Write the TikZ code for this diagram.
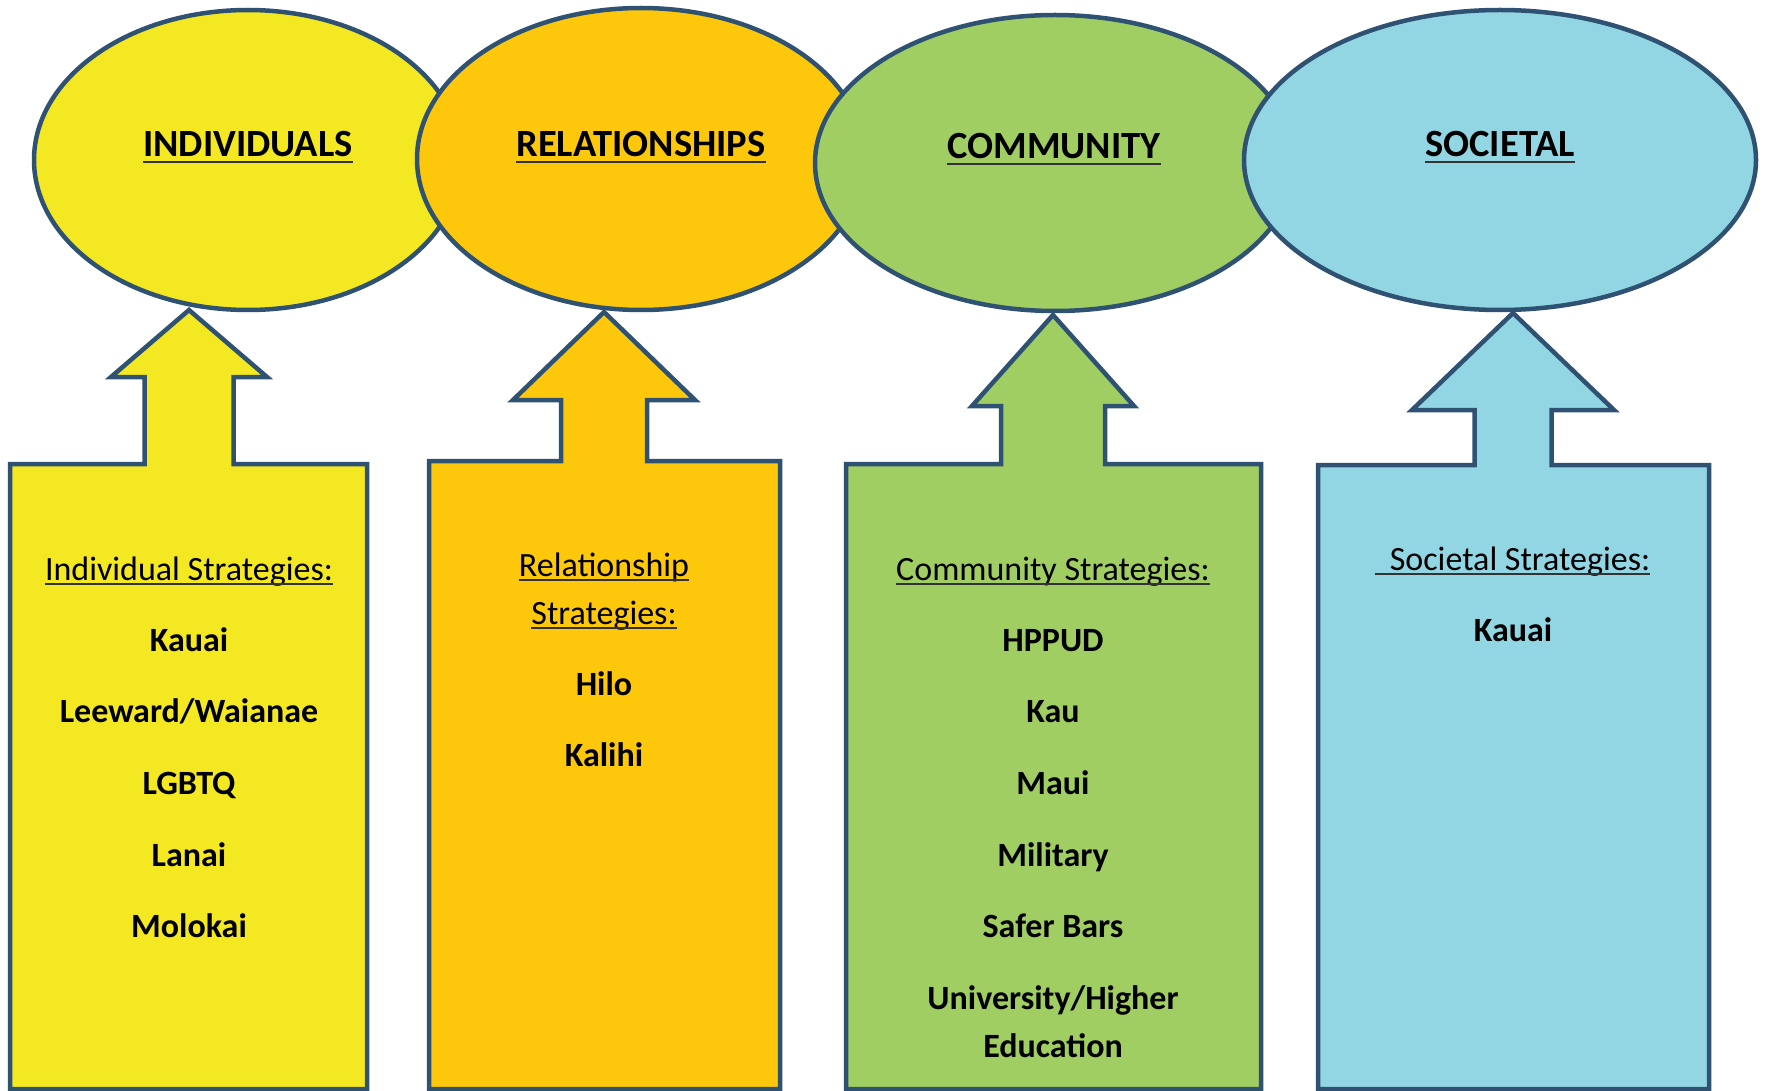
\documentclass[tikz,border=0pt]{standalone}
\usepackage{fontspec}
\setmainfont{Carlito}
\usetikzlibrary{shapes.geometric}

\definecolor{edgeblue}{HTML}{2F5273}
\definecolor{indyellow}{HTML}{F4E822}
\definecolor{relorange}{HTML}{FDC80C}
\definecolor{comgreen}{HTML}{A1CE62}
\definecolor{socblue}{HTML}{93D6E3}

\tikzset{
    level/.style={ellipse, draw=edgeblue, line width=4.5pt, inner sep=0pt},
    title/.style={anchor=base, inner sep=0pt, font=\fontsize{38.5}{46}\selectfont\bfseries},
    head/.style={anchor=base, inner sep=0pt, font=\fontsize{34}{41}\selectfont},
    item/.style={anchor=base, inner sep=0pt, font=\fontsize{34}{41}\selectfont\bfseries},
    underl/.style={line width=1.6pt, black!80},
}

\begin{document}
\begin{tikzpicture}[x=1pt, y=-1pt]
    \useasboundingbox (0,0) rectangle (1767,1091);

    % strategy boxes, each with a block arrow up to its level
    \foreach \cx/\sh/\hh/\hb/\ty/\bl/\br/\bt/\col in {
            189/44.5/78/377/310/10/367/464/indyellow,
            604/43/91/400/312/429/780/461/relorange,
            1053/52/81/406/315/846/1261/464/comgreen,
            1513/38.5/101/410/313/1318/1709/465/socblue}
        \filldraw[fill=\col, draw=edgeblue, line width=4.5pt] (\cx,\ty) -- (\cx+\hh,\hb) -- (\cx+\sh,\hb)
            -- (\cx+\sh,\bt) -- (\br,\bt) -- (\br,1089) -- (\bl,1089) -- (\bl,\bt)
            -- (\cx-\sh,\bt) -- (\cx-\sh,\hb) -- (\cx-\hh,\hb) -- cycle;

    % the four levels, left one lies under the next
    \node[level, fill=indyellow, minimum width=428, minimum height=300] (indiv) at (248,160) {};
    \node[level, fill=relorange, minimum width=448, minimum height=302] (relat) at (641,159) {};
    \node[level, fill=comgreen, minimum width=480, minimum height=296] (commun) at (1055,163) {};
    \node[level, fill=socblue, minimum width=512, minimum height=300] (soc) at (1500,160) {};

    \node[title] (indivT) at (248,157) {INDIVIDUALS};
    \node[title] (relatT) at (641,157) {RELATIONSHIPS};
    \node[title] (communT) at (1054,159) {COMMUNITY};
    \node[title] (socT) at (1500,157) {SOCIETAL};

    % strategies
    \node[head] (indivH) at (189,580) {Individual Strategies:};
    \foreach \lbl [count=\k] in {Kauai, Leeward/Waianae, LGBTQ, Lanai, Molokai}
        \node[item] (indiv\k) at (189,579.3+71.7*\k) {\lbl};

    \node[head] (relatH1) at (604,576) {Relationship};
    \node[head] (relatH2) at (604,624) {Strategies:};
    \foreach \lbl [count=\k] in {Hilo, Kalihi}
        \node[item] (relat\k) at (604,623.5+71.7*\k) {\lbl};

    \node[head] (communH) at (1053,580) {Community Strategies:};
    \foreach \lbl [count=\k] in {HPPUD, Kau, Maui, Military, Safer Bars, University/Higher}
        \node[item] (commun\k) at (1053,579.3+71.7*\k) {\lbl};
    \node[item] (commun7) at (1053,1057) {Education};

    \node[head] (socH) at (1520,570) {Societal Strategies:};
    \node[item] (soc1) at (1513,641) {Kauai};

    % underlines
    \foreach \n in {indivT, relatT, communT, socT}
        \draw[underl, line width=2pt] ([yshift=-5pt]\n.base west) -- ([yshift=-5pt]\n.base east);
    \foreach \n in {indivH, relatH1, relatH2, communH}
        \draw[underl] ([yshift=-4pt]\n.base west) -- ([yshift=-4pt]\n.base east);
    \draw[underl] ([xshift=-15pt, yshift=-4pt]socH.base west) -- ([yshift=-4pt]socH.base east);
\end{tikzpicture}
\end{document}
